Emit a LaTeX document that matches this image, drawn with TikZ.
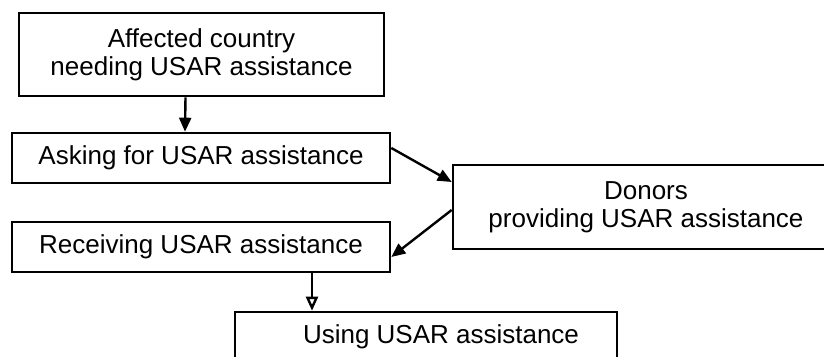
\documentclass[tikz,border=0pt]{standalone}
\usepackage{fontspec}
\setmainfont{Liberation Sans}
\usetikzlibrary{arrows.meta}

\begin{document}
\begin{tikzpicture}[x=0.5pt, y=0.5pt,
        stage/.style={draw, line width=1.3pt, align=center, inner sep=0pt,
            font=\fontsize{13}{14}\selectfont},
        flow/.style={line width=1.2pt, -{Triangle[length=7pt, width=6pt]}}]
        % --- area del disegno ---
        \clip (0, 0) rectangle (824, 357);

        % definizione dei blocchi
        \node[stage, minimum width=182.5pt, minimum height=41.5pt] (affected) at (201.5, 302.5)
            {Affected country\\needing USAR assistance};
        \node[stage, minimum width=189pt, minimum height=25pt] (asking) at (201, 199)
            {Asking for USAR assistance};
        \node[stage, minimum width=189pt, minimum height=25pt] (receiving) at (201, 110)
            {Receiving USAR assistance};
        \node[stage, minimum width=191pt, minimum height=25pt] (using) at (426, 20)
            {\hspace*{15pt}Using USAR assistance};
        \node[stage, minimum width=193pt, minimum height=42pt] (donors) at (646, 150)
            {Donors\\providing USAR assistance};

        % frecce tra i blocchi
        \draw[flow] ([xshift=-8pt]affected.south) -- ([xshift=-8pt]asking.north);
        \draw[flow] ([yshift=5pt]asking.east) -- ([yshift=12.5pt]donors.west);
        \draw[flow] ([yshift=-1.5pt]donors.west) -- ([yshift=-5pt]receiving.east);
        \draw[line width=1.2pt, -{Triangle[open, length=7pt, width=6pt]}]
            ([xshift=55.5pt]receiving.south) -- ([xshift=55.5pt]receiving.south |- using.north);
    \end{tikzpicture}
\end{document}
